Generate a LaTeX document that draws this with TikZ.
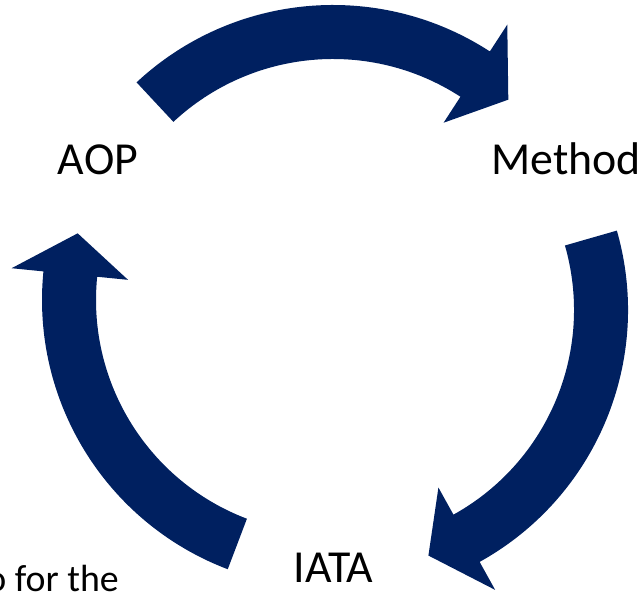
\documentclass[tikz,border=0pt]{standalone}
\usepackage{fontspec}
\setmainfont{Carlito}
\usepackage{tikz}

\definecolor{navy}{RGB}{0,32,96}

% block arrow on a circle: centre, tail angle, base of head, tip angle
\newcommand{\cyclearrow}[4]{%
  \fill[arrowfill] ([shift={#1}]#2:234) arc[start angle=#2, end angle=#3, radius=234bp]
    -- ([shift={#1}]#3:203) -- ([shift={#1}]#4:261) -- ([shift={#1}]#3:320)
    -- ([shift={#1}]#3:288) arc[start angle=#3, end angle=#2, radius=288bp] -- cycle;}

\begin{document}
\begin{tikzpicture}[
            x=1bp, y=1bp,
            every node/.style={
                inner sep=0pt,
                font=\fontsize{46}{54}\selectfont
            },
            arrowfill/.style={fill=navy}
        ]
            \useasboundingbox (0,0) rectangle (644,595);

            % kreismitten der drei pfeile
            \coordinate (ctop) at (333,302);
            \coordinate (cright) at (340,285);
            \coordinate (cleft) at (330,295);

            % pfeile
            \cyclearrow{(ctop)}{133}{57}{47.8}
            \cyclearrow{(cright)}{16}{-61}{-70.2}
            \cyclearrow{(cleft)}{249.2}{174.3}{165.2}

            % beschriftung
            \node[anchor=base] (aop) at (98,420) {AOP};
            \node[anchor=base] (method) at (566,420) {Method};
            \node[anchor=base] (iata) at (333.5,12) {IATA};
            \node[anchor=base east, font=\fontsize{38}{44}\selectfont] (note) at (119,3) {o for the};
        \end{tikzpicture}
\end{document}
